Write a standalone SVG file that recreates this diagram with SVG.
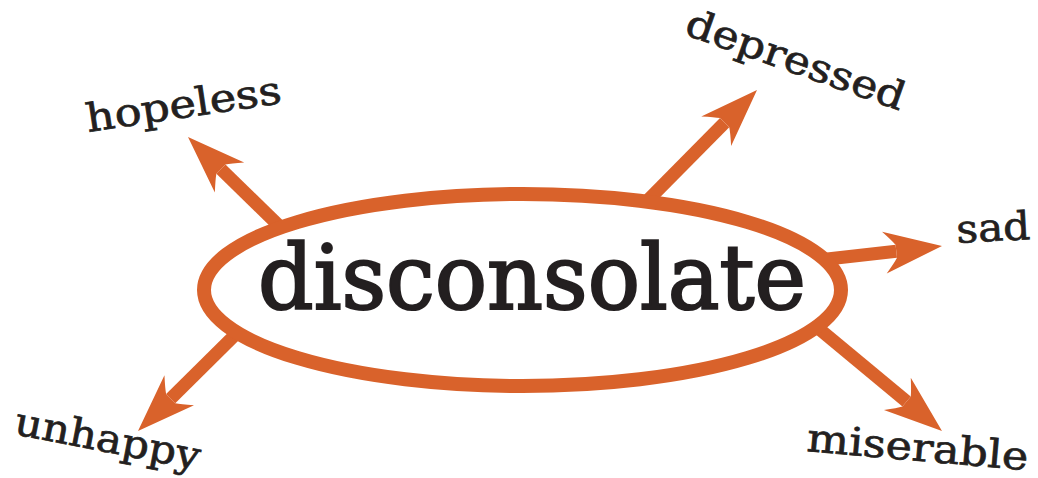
<svg xmlns="http://www.w3.org/2000/svg" xmlns:xlink="http://www.w3.org/1999/xlink" width="1038" height="478" viewBox="0 0 1038 478">
<style>
.shaft{stroke:#D9622B;stroke-width:13;stroke-linecap:butt;fill:none}
.head{fill:#D9622B;stroke:none}
.lbl{font-family:"DejaVu Serif","Liberation Serif",serif;font-size:39px;fill:#231F20;stroke:#231F20;stroke-width:0.7px}
.main{font-family:"DejaVu Serif","Liberation Serif",serif;font-size:89px;fill:#231F20;stroke:#231F20;stroke-width:2.2px}
</style>
<defs>
<path id="ah" d="M0,0 L-58,-21 Q-49,-11 -46,-6.5 L-46,6.5 Q-49,11 -58,21 Z"/>
</defs>
<rect width="1038" height="478" fill="#ffffff"/>
<g id="connectors">
<g transform="translate(188,137) rotate(-135.7)"><line class="shaft" x1="-46" y1="0" x2="-160" y2="0"/><use href="#ah" class="head"/></g>
<g transform="translate(757,90) rotate(-45.3)"><line class="shaft" x1="-46" y1="0" x2="-175" y2="0"/><use href="#ah" class="head"/></g>
<g transform="translate(942,246) rotate(-6.45)"><line class="shaft" x1="-46" y1="0" x2="-140" y2="0"/><use href="#ah" class="head"/></g>
<g transform="translate(942,431) rotate(39.7)"><line class="shaft" x1="-46" y1="0" x2="-185" y2="0"/><use href="#ah" class="head"/></g>
<g transform="translate(138,431) rotate(135.3)"><line class="shaft" x1="-46" y1="0" x2="-170" y2="0"/><use href="#ah" class="head"/></g>
</g>
<g id="node-disconsolate">
<ellipse cx="522.5" cy="290" rx="318.5" ry="96" fill="#ffffff" stroke="#D9622B" stroke-width="14"/>
<text class="main" x="258" y="309" textLength="548" lengthAdjust="spacingAndGlyphs">disconsolate</text>
</g>
<g id="node-hopeless">
<text class="lbl" x="88" y="132" transform="rotate(-8.5 88 132)" textLength="197" lengthAdjust="spacingAndGlyphs">hopeless</text>
</g>
<g id="node-depressed">
<text class="lbl" x="683" y="34" transform="rotate(19.5 683 34)" textLength="230" lengthAdjust="spacingAndGlyphs">depressed</text>
</g>
<g id="node-sad">
<text class="lbl" x="957" y="243" transform="rotate(-3 957 243)" textLength="74" lengthAdjust="spacingAndGlyphs">sad</text>
</g>
<g id="node-miserable">
<text class="lbl" x="806" y="451" transform="rotate(5 806 451)" textLength="222" lengthAdjust="spacingAndGlyphs">miserable</text>
</g>
<g id="node-unhappy">
<text class="lbl" x="13" y="434" transform="rotate(11 13 434)" textLength="188" lengthAdjust="spacingAndGlyphs">unhappy</text>
</g>
</svg>
